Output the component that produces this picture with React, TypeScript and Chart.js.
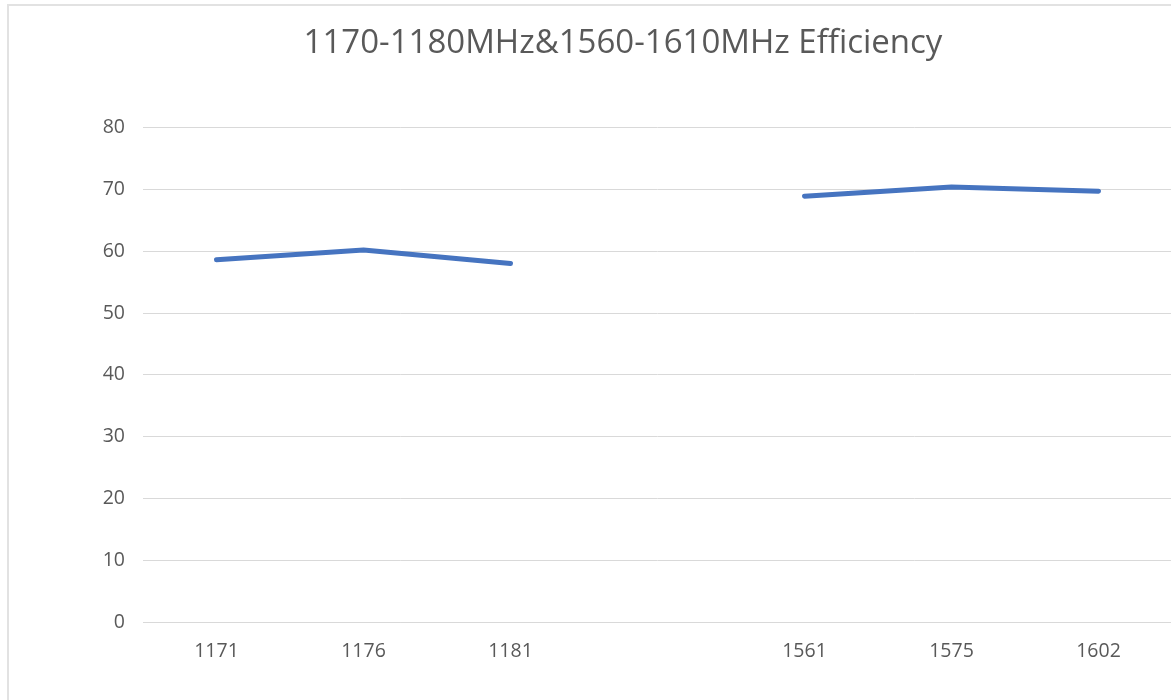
import React, { useEffect, useRef } from "react";
import { Chart, registerables } from "chart.js";

Chart.register(...registerables);

const titleText = "1170-1180MHz&1560-1610MHz Efficiency";
const categories = ["1171", "1176", "1181", "", "1561", "1575", "1602"];
const efficiency: (number | null)[] = [58.6, 60.2, 58.0, null, 68.9, 70.4, 69.7];
const yMin = 0;
const yMax = 80;
const yStep = 10;

const CANVAS_W = 1228;
const CANVAS_H = 694;

export default function App() {
  const ref = useRef<HTMLCanvasElement | null>(null);

  useEffect(() => {
    if (!ref.current) return;
    const chart = new Chart(ref.current, {
      type: "line",
      data: {
        labels: categories,
        datasets: [
          {
            label: "Efficiency",
            data: efficiency,
            borderColor: "#4674c0",
            backgroundColor: "#4674c0",
            borderWidth: 5,
            pointRadius: 0,
            pointHoverRadius: 0,
            tension: 0,
            spanGaps: false,
            borderCapStyle: "round",
            borderJoinStyle: "round",
          },
        ],
      },
      options: {
        responsive: false,
        animation: false,
        devicePixelRatio: 1,
        layout: { padding: { left: 65, right: 65, top: 0, bottom: 0 } },
        plugins: {
          legend: { display: false },
          tooltip: { enabled: false },
          title: {
            display: true,
            text: titleText,
            color: "#595959",
            font: { family: "'Open Sans', sans-serif", size: 33, weight: "normal" },
            padding: { top: 18, bottom: 64 },
          },
        },
        scales: {
          x: {
            offset: true,
            grid: { display: false, drawTicks: false },
            border: { display: true, color: "#d9d9d9", width: 1 },
            ticks: {
              color: "#595959",
              font: { family: "'Open Sans', sans-serif", size: 19.5 },
              padding: 18,
              maxRotation: 0,
              autoSkip: false,
            },
            afterFit: (scale: any) => {
              scale.height = CANVAS_H - 616;
            },
          },
          y: {
            min: yMin,
            max: yMax,
            grid: { color: "#d9d9d9", lineWidth: 1, drawTicks: false },
            border: { display: false },
            ticks: {
              stepSize: yStep,
              color: "#595959",
              font: { family: "'Open Sans', sans-serif", size: 19.5 },
              padding: 18,
            },
            afterFit: (scale: any) => {
              scale.width = 69;
            },
          },
        },
      },
    });
    return () => chart.destroy();
  }, []);

  return (
    <div
      style={{
        position: "fixed",
        inset: 0,
        overflow: "hidden",
        background: "#ffffff",
      }}
    >
      <div
        style={{
          position: "absolute",
          left: 7,
          top: 4,
          borderLeft: "2px solid #e2e2e2",
          borderTop: "2px solid #e2e2e2",
          width: CANVAS_W,
          height: CANVAS_H,
        }}
      >
        <canvas
          ref={ref}
          width={CANVAS_W}
          height={CANVAS_H}
          style={{ display: "block", width: CANVAS_W, height: CANVAS_H }}
        />
      </div>
    </div>
  );
}
